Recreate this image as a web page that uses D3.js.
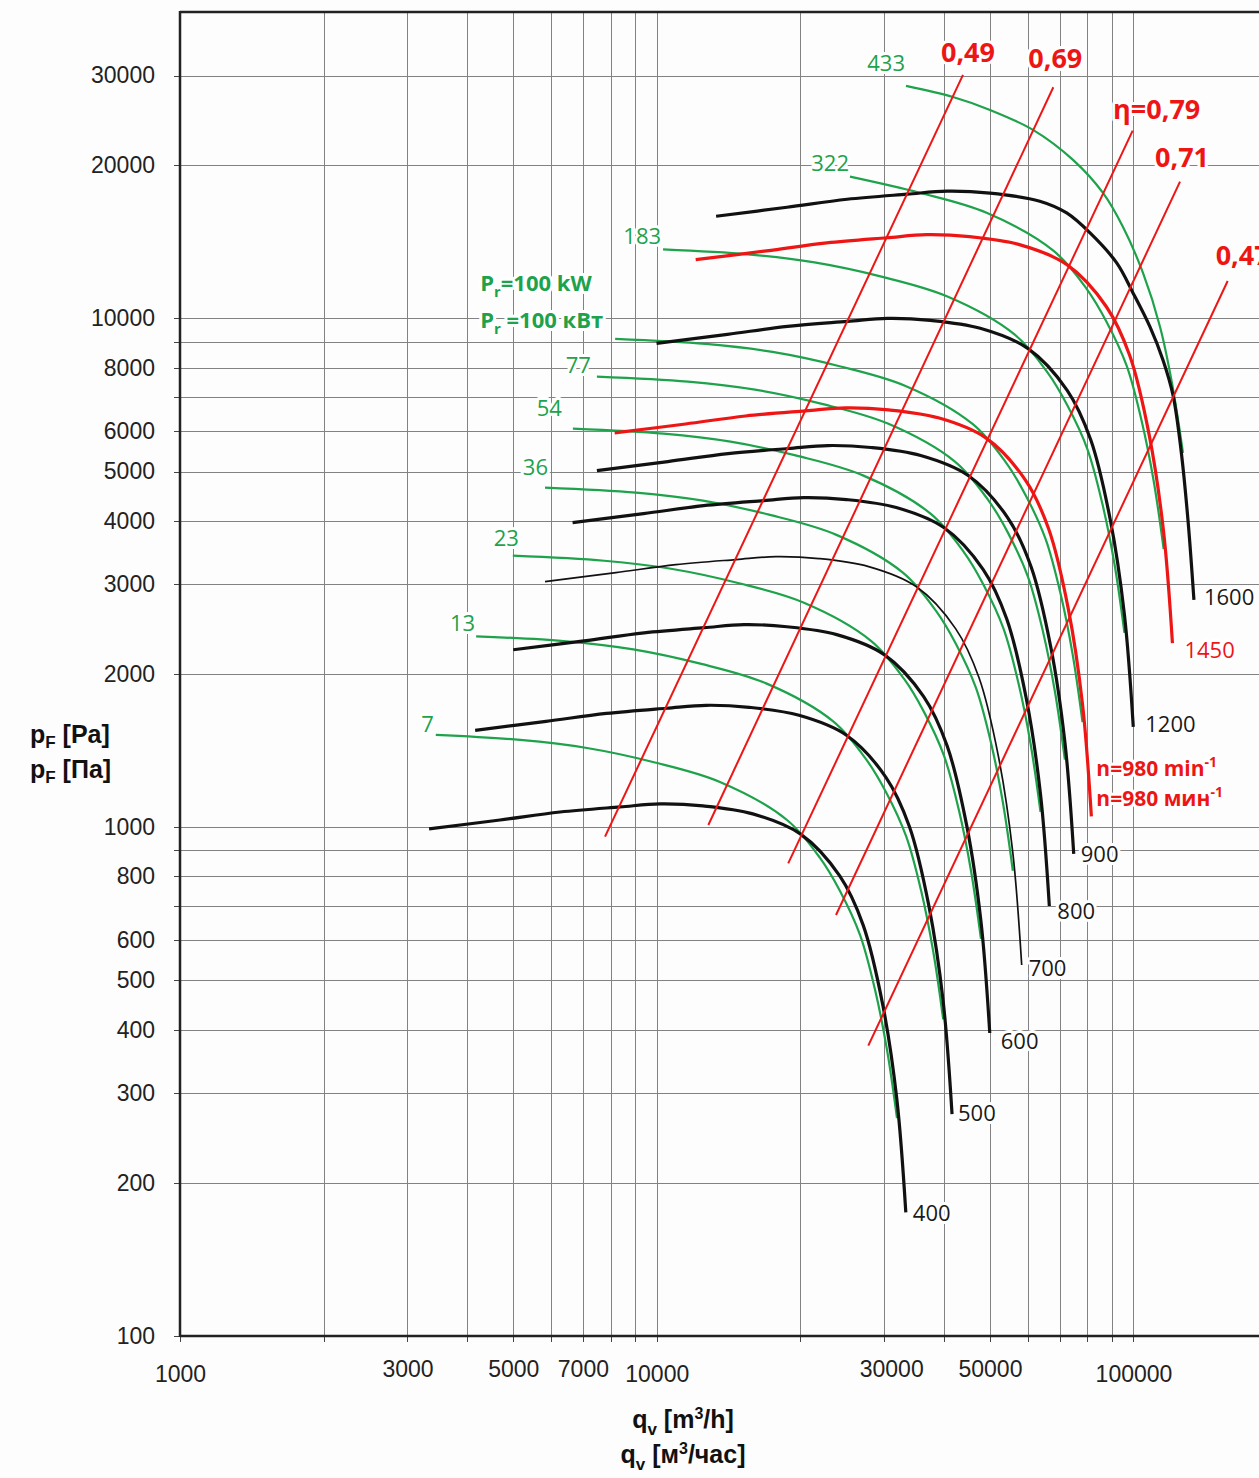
<!DOCTYPE html>
<meta charset="utf-8">
<style>
body { margin: 0; background: #fdfdfd; }
svg { display: block; }
.grid line { stroke: #828282; stroke-width: 1; shape-rendering: crispEdges; }
.grid path, .axis path { display: none; }
.axis line { stroke: #444; stroke-width: 1; shape-rendering: crispEdges; }
.axis text { font: 23px 'Liberation Sans', Arial, sans-serif; fill: #222; }
.curve { fill: none; stroke-linejoin: round; }
.lbl { font-family: 'Open Sans', sans-serif; paint-order: stroke; stroke: #fff; stroke-width: 6px; stroke-linejoin: round; }
.title { font: bold 25px 'Liberation Sans', Arial, sans-serif; fill: #111; }
</style>
<body>
<script src="https://cdnjs.cloudflare.com/ajax/libs/d3/7.8.5/d3.min.js"></script>
<script>
// tick labels shown on the axes
var xTickLabels = [1000, 3000, 5000, 7000, 10000, 30000, 50000, 100000];
var yTickLabels = [100, 200, 300, 400, 500, 600, 800, 1000, 2000, 3000, 4000, 5000, 6000, 8000, 10000, 20000, 30000];

// fan curves, q [m3/h] and p [Pa], one pair per speed (min-1)
var q400 = [3330, 4690, 6270, 8380, 10160, 12500, 15900, 20000, 24200, 27100, 29800, 31900, 33300];
var p400 = [992, 1033, 1071, 1096, 1111, 1101, 1062, 970, 802, 642, 447, 291, 175];
var q500 = [4160, 5860, 7840, 10480, 12700, 15630, 19880, 25000, 30250, 33880, 37250, 39880, 41630];
var p500 = [1550, 1614, 1673, 1713, 1736, 1720, 1659, 1516, 1253, 1003, 698, 455, 273];
var q600 = [5000, 7040, 9410, 12570, 15240, 18750, 23850, 30000, 36300, 40650, 44700, 47850, 49950];
var p600 = [2232, 2324, 2410, 2466, 2500, 2477, 2390, 2183, 1805, 1445, 1006, 655, 394];
var q700 = [5830, 8210, 10970, 14670, 17780, 21880, 27830, 35000, 42350, 47430, 52150, 55830, 58280];
var p700 = [3038, 3164, 3280, 3357, 3402, 3372, 3252, 2971, 2456, 1966, 1369, 891, 536];
var q800 = [6660, 9380, 12540, 16760, 20320, 25000, 31800, 40000, 48400, 54200, 59600, 63800, 66600];
var p800 = [3968, 4132, 4284, 4384, 4444, 4404, 4248, 3880, 3208, 2568, 1788, 1164, 700];
var q900 = [7490, 10550, 14110, 18860, 22860, 28130, 35780, 45000, 54450, 60980, 67050, 71780, 74930];
var p900 = [5022, 5230, 5422, 5549, 5624, 5574, 5376, 4911, 4060, 3250, 2263, 1473, 886];
var q980 = [8160, 11490, 15360, 20530, 24890, 30630, 38960, 49000, 59290, 66400, 73010, 78160, 81590];
var p980 = [5954, 6200, 6429, 6579, 6669, 6609, 6375, 5822, 4814, 3854, 2683, 1747, 1050];
var q1200 = [9990, 14070, 18810, 25140, 30480, 37500, 47700, 60000, 72600, 81300, 89400, 95700, 99900];
var p1200 = [8930, 9300, 9640, 9860, 10000, 9910, 9560, 8730, 7220, 5780, 4020, 2620, 1575];
var q1450 = [12070, 17000, 22730, 30380, 36830, 45310, 57640, 72500, 87730, 98240, 108000, 115600, 120700];
var p1450 = [13040, 13570, 14070, 14400, 14600, 14470, 13960, 12750, 10540, 8440, 5870, 3820, 2300];
var q1600 = [13320, 18760, 25080, 33520, 40640, 50000, 63600, 72420, 81070, 92210, 99760, 108300, 115300, 121000, 125800, 130100, 133900];
var p1600 = [15870, 16530, 17140, 17540, 17780, 17620, 16990, 16110, 14720, 12850, 11220, 9618, 8283, 7071, 5513, 4016, 2796];

// shaft power curves (kW), drawn on the same q/p grid
var g7q = [3440, 5170, 7140, 9820, 13570, 18760, 22000, 24230, 26690, 28700, 30410, 31910];
var g7p = [1518, 1484, 1431, 1343, 1227, 1033, 870, 749, 614, 479, 365, 268];
var g13q = [4180, 6460, 8930, 12280, 16960, 23450, 27500, 30290, 33360, 35880, 38010, 39890];
var g13p = [2372, 2319, 2236, 2098, 1917, 1614, 1359, 1170, 959, 748, 570, 419];
var g23q = [4990, 7760, 10710, 14730, 20360, 28140, 33000, 36350, 40040, 43050, 45620, 47870];
var g23p = [3416, 3339, 3220, 3022, 2761, 2324, 1958, 1685, 1382, 1078, 821, 603];
var g36q = [5830, 9050, 12500, 17190, 23750, 32830, 38500, 42400, 46710, 50230, 53220, 55840];
var g36p = [4649, 4545, 4382, 4113, 3758, 3164, 2664, 2294, 1880, 1467, 1118, 821];
var g54q = [6670, 10340, 14280, 19640, 27140, 37520, 44000, 48460, 53380, 57400, 60820, 63820];
var g54p = [6072, 5936, 5724, 5372, 4908, 4132, 3480, 2996, 2456, 1916, 1460, 1072];
var g77q = [7490, 11630, 16070, 22100, 30530, 42210, 49500, 54520, 60050, 64580, 68420, 71800];
var g77p = [7685, 7513, 7244, 6799, 6212, 5230, 4404, 3792, 3108, 2425, 1848, 1357];
var g100q = [8180, 12670, 17490, 24060, 33250, 45960, 53900, 59360, 65390, 70320, 74510, 78180];
var g100p = [9112, 8908, 8590, 8061, 7365, 6201, 5222, 4496, 3686, 2875, 2191, 1609];
var g183q = [10310, 15510, 21420, 29460, 40710, 56280, 66000, 72690, 80070, 86100, 91230, 95730];
var g183p = [13660, 13360, 12880, 12090, 11040, 9300, 7830, 6740, 5530, 4310, 3290, 2410];
var g322q = [25430, 35600, 49190, 68010, 79750, 87830, 96750, 104000, 110200, 115700];
var g322p = [18990, 17650, 16120, 13570, 11430, 9840, 8070, 6290, 4800, 3520];
var g433q = [33330, 41820, 50000, 61550, 74670, 86300, 95060, 104700, 113700, 120400, 127000];
var g433p = [28630, 27230, 25680, 23460, 20480, 17640, 15120, 12280, 9620, 7470, 5440];

// efficiency lines (start / end)
var effNames = ["0,49", "0,69", "η=0,79", "0,71", "0,47"];
var effQ = [[7790, 43890], [12830, 67890], [18870, 99610], [23770, 125200], [27780, 157600]];
var effP = [[958, 30090], [1010, 28460], [849, 23380], [672, 18560], [372, 11840]];

var RED = "#ee1515", GREEN = "#1ea24b", BLACK = "#111";
var W = 1259, H = 1478;
var plotL = 180, plotT = 12, plotB = 1336;

var x = d3.scaleLog().domain([1000, 200000]).range([plotL, 1277]);
var y = d3.scaleLog().domain([100, 40000]).range([plotB, plotT]);

var svg = d3.select("body").append("svg")
	.attr("width", W)
	.attr("height", H);

var xGrid = [], yGrid = [];
[1000, 10000, 100000].forEach(function(d) { for (var m = 1; m < 10; m++) xGrid.push(m * d); });
[100, 1000, 10000].forEach(function(d) { for (var m = 1; m < 10; m++) if (m * d < 40000) yGrid.push(m * d); });

// gridlines
svg.append("g")
	.attr("class", "grid")
	.attr("transform", "translate(0," + plotB + ")")
	.call(d3.axisBottom(x).tickValues(xGrid).tickSize(-(plotB - plotT)).tickFormat(""));
svg.append("g")
	.attr("class", "grid")
	.attr("transform", "translate(" + plotL + ",0)")
	.call(d3.axisLeft(y).tickValues(yGrid).tickSize(-(W - plotL)).tickFormat(""));

// axes with short ticks and labels
var xAxis = svg.append("g")
	.attr("class", "axis")
	.attr("transform", "translate(0," + plotB + ")")
	.call(d3.axisBottom(x).tickValues(xGrid).tickSize(6).tickPadding(19)
		.tickFormat(function(d) { return xTickLabels.indexOf(d) >= 0 ? d : ""; }));
xAxis.selectAll("text")
	.attr("y", function(d) { return (d === 1000 || d === 10000 || d === 100000) ? 30 : 25; })
	.attr("dx", function(d) { return d === 30000 ? 7 : 0; });

svg.append("g")
	.attr("class", "axis")
	.attr("transform", "translate(" + plotL + ",0)")
	.call(d3.axisLeft(y).tickValues(yGrid).tickSize(6).tickPadding(19)
		.tickFormat(function(d) { return yTickLabels.indexOf(d) >= 0 ? d : ""; }));

// frame
svg.append("line").attr("x1", plotL).attr("x2", plotL).attr("y1", plotT - 1).attr("y2", plotB + 1)
	.style("stroke", "#222").style("stroke-width", 2.5);
svg.append("line").attr("x1", plotL).attr("x2", W).attr("y1", plotT).attr("y2", plotT)
	.style("stroke", "#222").style("stroke-width", 2.5);
svg.append("line").attr("x1", plotL).attr("x2", W).attr("y1", plotB).attr("y2", plotB)
	.style("stroke", "#222").style("stroke-width", 2.5);

var line = d3.line()
	.x(function(d) { return x(d[0]); })
	.y(function(d) { return y(d[1]); })
	.curve(d3.curveCatmullRom.alpha(0.5));

// power curves
var powers = [
	{ P: "7", q: g7q, p: g7p, dx: -2, dy: -11 },
	{ P: "13", q: g13q, p: g13p, dx: -1, dy: -13 },
	{ P: "23", q: g23q, p: g23p, dx: 6, dy: -18 },
	{ P: "36", q: g36q, p: g36p, dx: 3, dy: -21 },
	{ P: "54", q: g54q, p: g54p, dx: -11, dy: -21 },
	{ P: "77", q: g77q, p: g77p, dx: -6, dy: -11 },
	{ P: "", q: g100q, p: g100p, dx: 0, dy: 0 },
	{ P: "183", q: g183q, p: g183p, dx: -2, dy: -13 },
	{ P: "322", q: g322q, p: g322p, dx: -1, dy: -14 },
	{ P: "433", q: g433q, p: g433p, dx: -1, dy: -23 }
];
powers.forEach(function(c) {
	svg.append("path")
		.attr("class", "curve")
		.attr("d", line(d3.zip(c.q, c.p)))
		.style("stroke", GREEN)
		.style("stroke-width", 2.2);
});

// fan curves
var fans = [
	{ n: 400, q: q400, p: p400, color: BLACK, w: 3.2, dx: 7, dy: 1 },
	{ n: 500, q: q500, p: p500, color: BLACK, w: 3.2, dx: 6, dy: -1 },
	{ n: 600, q: q600, p: p600, color: BLACK, w: 3.2, dx: 11, dy: 8 },
	{ n: 700, q: q700, p: p700, color: BLACK, w: 1.7, dx: 7, dy: 3 },
	{ n: 800, q: q800, p: p800, color: BLACK, w: 3.2, dx: 8, dy: 5 },
	{ n: 900, q: q900, p: p900, color: BLACK, w: 3.2, dx: 7, dy: 0 },
	{ n: 980, q: q980, p: p980, color: RED, w: 3.2, dx: 0, dy: 0 },
	{ n: 1200, q: q1200, p: p1200, color: BLACK, w: 3.2, dx: 12, dy: -3 },
	{ n: 1450, q: q1450, p: p1450, color: RED, w: 3.2, dx: 12, dy: 7 },
	{ n: 1600, q: q1600, p: p1600, color: BLACK, w: 3.2, dx: 10, dy: -3 }
];
fans.forEach(function(c) {
	svg.append("path")
		.attr("class", "curve")
		.attr("d", line(d3.zip(c.q, c.p)))
		.style("stroke", c.color)
		.style("stroke-width", c.w);
});

// efficiency lines
var effOff = [[5, -23], [2, -29], [24, -21], [2, -24], [15, -26]];
effNames.forEach(function(name, i) {
	svg.append("path")
		.attr("class", "curve")
		.attr("d", line(d3.zip(effQ[i], effP[i])))
		.style("stroke", RED)
		.style("stroke-width", 2);
});

// labels
powers.forEach(function(c) {
	if (!c.P) return;
	svg.append("text")
		.attr("class", "lbl")
		.attr("x", x(c.q[0]) + c.dx)
		.attr("y", y(c.p[0]) + c.dy)
		.attr("dy", "0.36em")
		.attr("text-anchor", "end")
		.style("font-size", "22px")
		.style("fill", GREEN)
		.text(c.P);
});

fans.forEach(function(c) {
	if (c.n === 980) return;
	var last = c.q.length - 1;
	svg.append("text")
		.attr("class", "lbl")
		.attr("x", x(c.q[last]) + c.dx)
		.attr("y", y(c.p[last]) + c.dy)
		.attr("dy", "0.36em")
		.style("font-size", "22px")
		.style("fill", c.color === RED ? RED : "#1a1a1a")
		.text(c.n);
});

effNames.forEach(function(name, i) {
	svg.append("text")
		.attr("class", "lbl")
		.attr("x", x(effQ[i][1]) + effOff[i][0])
		.attr("y", y(effP[i][1]) + effOff[i][1])
		.attr("dy", "0.36em")
		.attr("text-anchor", "middle")
		.style("font-size", "27px")
		.style("font-weight", "bold")
		.style("fill", RED)
		.text(name);
});

// n = 980 label beside the red curve end
var e980x = x(q980[q980.length - 1]), e980y = y(p980[p980.length - 1]);
["min", "мин"].forEach(function(u, i) {
	var t = svg.append("text")
		.attr("class", "lbl")
		.attr("x", e980x + 5)
		.attr("y", e980y - 40 + i * 30)
		.style("font-size", "21px")
		.style("font-weight", "bold")
		.style("fill", RED);
	t.append("tspan").text("n=980 " + u);
	t.append("tspan").attr("dy", -9).style("font-size", "14px").text("-1");
});

// P = 100 kW label for the power curve of n = 980
var s100x = x(g100q[0]), s100y = y(g100p[0]);
["=100 kW", " =100 кВт"].forEach(function(u, i) {
	var t = svg.append("text")
		.attr("class", "lbl")
		.attr("x", s100x - 135)
		.attr("y", s100y - 48 + i * 37)
		.style("font-size", "22px")
		.style("font-weight", "bold")
		.style("fill", GREEN);
	t.append("tspan").text("P");
	t.append("tspan").attr("dy", 6).style("font-size", "15px").text("r");
	t.append("tspan").attr("dy", -6).text(u);
});

// axis titles
function yTitle(unit, ty) {
	var t = svg.append("text").attr("class", "title").attr("x", 30).attr("y", ty);
	t.append("tspan").text("p");
	t.append("tspan").attr("dy", 5).style("font-size", "17px").text("F");
	t.append("tspan").attr("dy", -5).text(" [" + unit + "]");
}
yTitle("Pa", 743);
yTitle("Па", 778);

function xTitle(pre, unit, ty) {
	var t = svg.append("text").attr("class", "title").attr("x", 683).attr("y", ty).attr("text-anchor", "middle");
	t.append("tspan").text("q");
	t.append("tspan").attr("dy", 7).style("font-size", "17px").text("v");
	t.append("tspan").attr("dy", -7).text(pre);
	t.append("tspan").attr("dy", -9).style("font-size", "16px").text("3");
	t.append("tspan").attr("dy", 9).text(unit);
}
xTitle("  [m", "/h]", 1428);
xTitle(" [м", "/час]", 1463);
</script>
